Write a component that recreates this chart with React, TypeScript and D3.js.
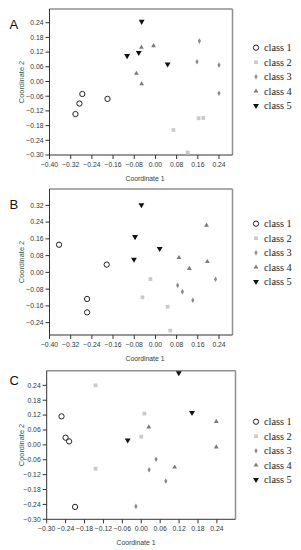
import React from "react";
import * as d3 from "d3";

// ---------- data ----------
const classNames = ["class 1", "class 2", "class 3", "class 4", "class 5"];

// Panel A
const aClass1: [number, number][] = [[-0.302, -0.133], [-0.287, -0.09], [-0.276, -0.051], [-0.181, -0.071]];
const aClass2: [number, number][] = [[0.068, -0.198], [0.122, -0.29], [0.163, -0.15], [0.181, -0.149]];
const aClass3: [number, number][] = [[0.166, 0.165], [0.157, 0.081], [0.24, 0.067], [0.24, -0.048]];
const aClass4: [number, number][] = [[-0.053, 0.139], [-0.007, 0.146], [-0.072, 0.033], [-0.052, -0.01]];
const aClass5: [number, number][] = [[-0.052, 0.245], [-0.107, 0.105], [-0.063, 0.118], [0.046, 0.071]];

// Panel B
const bClass1: [number, number][] = [[-0.364, 0.132], [-0.184, 0.037], [-0.258, -0.127], [-0.258, -0.191]];
const bClass2: [number, number][] = [[-0.019, -0.032], [-0.049, -0.119], [0.046, -0.164], [0.056, -0.278]];
const bClass3: [number, number][] = [[0.084, -0.062], [0.102, -0.092], [0.141, -0.133], [0.227, -0.033]];
const bClass4: [number, number][] = [[0.193, 0.225], [0.089, 0.07], [0.128, 0.018], [0.196, 0.051]];
const bClass5: [number, number][] = [[-0.053, 0.322], [-0.077, 0.17], [-0.081, 0.062], [0.016, 0.113]];

// Panel C
const cClass1: [number, number][] = [[-0.253, 0.115], [-0.24, 0.029], [-0.229, 0.014], [-0.21, -0.25]];
const cClass2: [number, number][] = [[-0.145, 0.24], [0.01, 0.126], [0.0, 0.033], [-0.145, -0.096]];
const cClass3: [number, number][] = [[0.047, -0.058], [0.025, -0.1], [0.078, -0.146], [-0.017, -0.248]];
const cClass4: [number, number][] = [[0.024, 0.072], [0.106, -0.09], [0.238, 0.094], [0.238, -0.009]];
const cClass5: [number, number][] = [[0.119, 0.29], [0.161, 0.13], [-0.043, 0.019]];

// tick values
const xTicksAB = [-0.4, -0.32, -0.24, -0.16, -0.08, 0.0, 0.08, 0.16, 0.24];
const yTicksA = [-0.3, -0.24, -0.18, -0.12, -0.06, 0.0, 0.06, 0.12, 0.18, 0.24];
const yTicksB = [-0.24, -0.16, -0.08, 0.0, 0.08, 0.16, 0.24, 0.32];
const xTicksC = [-0.3, -0.24, -0.18, -0.12, -0.06, 0.0, 0.06, 0.12, 0.18, 0.24];
const yTicksC = [-0.3, -0.24, -0.18, -0.12, -0.06, 0.0, 0.06, 0.12, 0.18, 0.24];

// ---------- styling ----------
const markerFill = ["none", "#c9c9c9", "#8a8a8a", "#7a7a7a", "#111"];
const tickColor = "#1f3a3a";
const titleColor = "#2d5a5a";

type Panel = {
  letter: string;
  box: { x0: number; x1: number; y0: number; y1: number };
  xDomain: [number, number];
  yDomain: [number, number];
  xTicks: number[];
  yTicks: number[];
  series: [number, number][][];
  letterY: number;
  legendY: number;
  xTitleX: number;
};

const panels: Panel[] = [
  {
    letter: "A",
    box: { x0: 49.5, x1: 232.5, y0: 9, y1: 155 },
    xDomain: [-0.4, 0.291],
    yDomain: [-0.3, 0.296],
    xTicks: xTicksAB,
    yTicks: yTicksA,
    series: [aClass1, aClass2, aClass3, aClass4, aClass5],
    letterY: 28.5,
    legendY: 47.7,
    xTitleX: 145,
  },
  {
    letter: "B",
    box: { x0: 49.5, x1: 232.5, y0: 189, y1: 335 },
    xDomain: [-0.4, 0.291],
    yDomain: [-0.299, 0.398],
    xTicks: xTicksAB,
    yTicks: yTicksB,
    series: [bClass1, bClass2, bClass3, bClass4, bClass5],
    letterY: 209.3,
    legendY: 223.7,
    xTitleX: 145,
  },
  {
    letter: "C",
    box: { x0: 46.7, x1: 235.5, y0: 370.7, y1: 519.3 },
    xDomain: [-0.3, 0.299],
    yDomain: [-0.3, 0.299],
    xTicks: xTicksC,
    yTicks: yTicksC,
    series: [cClass1, cClass2, cClass3, cClass4, cClass5],
    letterY: 385,
    legendY: 421.7,
    xTitleX: 136,
  },
];

const fmt = d3.format(".2f");

const symbolGens = [
  d3.symbol().type(d3.symbolCircle).size(22),
  d3.symbol().type(d3.symbolSquare).size(14),
  d3.symbol().type(d3.symbolDiamond).size(9),
  d3.symbol().type(d3.symbolTriangle).size(10),
  d3.symbol().type(d3.symbolTriangle).size(15),
];

function Marker({ i, x, y }: { i: number; x: number; y: number }) {
  const rot = i === 4 ? " rotate(180)" : "";
  return (
    <path
      d={symbolGens[i]() as string}
      transform={`translate(${x},${y})${rot}`}
      fill={markerFill[i]}
      stroke={i === 0 ? "#222" : "none"}
      strokeWidth={i === 0 ? 1 : 0}
    />
  );
}

function PanelView({ p }: { p: Panel }) {
  const { box } = p;
  const x = d3.scaleLinear().domain(p.xDomain).range([box.x0, box.x1]);
  const y = d3.scaleLinear().domain(p.yDomain).range([box.y1, box.y0]);
  const cy = (box.y0 + box.y1) / 2;
  return (
    <g>
      <text x={9.5} y={p.letterY} fontFamily="Liberation Sans, Arial, sans-serif" fontSize={13} fill="#111">
        {p.letter}
      </text>
      {/* frame */}
      <rect x={box.x0} y={box.y0} width={box.x1 - box.x0} height={box.y1 - box.y0} fill="#fff" stroke="none" />
      <line x1={box.x0} y1={box.y0} x2={box.x1} y2={box.y0} stroke="#8f8f8f" strokeWidth={1.5} />
      <line x1={box.x1} y1={box.y0} x2={box.x1} y2={box.y1} stroke="#8f8f8f" strokeWidth={1.5} />
      <line x1={box.x0} y1={box.y0} x2={box.x0} y2={box.y1} stroke="#333" strokeWidth={1} />
      <line x1={box.x0} y1={box.y1} x2={box.x1} y2={box.y1} stroke="#333" strokeWidth={1} />
      {/* y ticks */}
      {p.yTicks.map((t) => (
        <g key={"y" + t}>
          <line x1={box.x0 - 4} x2={box.x0} y1={y(t)} y2={y(t)} stroke="#333" strokeWidth={1} />
          <text
            x={box.x0 - 6}
            y={y(t)}
            dy="0.35em"
            textAnchor="end"
            fontFamily="Liberation Sans, Arial, sans-serif"
            fontSize={6.8}
            fill={tickColor}
          >
            {fmt(t)}
          </text>
        </g>
      ))}
      {/* x ticks */}
      {p.xTicks.map((t) => (
        <g key={"x" + t}>
          <line x1={x(t)} x2={x(t)} y1={box.y1} y2={box.y1 + 4} stroke="#333" strokeWidth={1} />
          <text
            x={x(t)}
            y={box.y1 + 11.5}
            textAnchor="middle"
            fontFamily="Liberation Sans, Arial, sans-serif"
            fontSize={6.8}
            fill={tickColor}
          >
            {fmt(t)}
          </text>
        </g>
      ))}
      {/* titles */}
      <text
        x={p.xTitleX}
        y={box.y1 + 25.5}
        textAnchor="middle"
        fontFamily="Liberation Sans, Arial, sans-serif"
        fontSize={6.8}
        fill="#2a4444"
      >
        Coordinate 1
      </text>
      <text
        transform={`translate(${23.5},${cy}) rotate(-90)`}
        textAnchor="middle"
        fontFamily="Liberation Sans, Arial, sans-serif"
        fontSize={7.4}
        fill={titleColor}
      >
        Coordinate 2
      </text>
      {/* points */}
      {p.series.map((s, i) =>
        s.map((d, j) => <Marker key={i + "-" + j} i={i} x={x(d[0])} y={y(d[1])} />)
      )}
      {/* legend */}
      {classNames.map((name, i) => (
        <g key={name}>
          <Marker i={i} x={256} y={p.legendY + i * 14.5} />
          <text
            x={264}
            y={p.legendY + i * 14.5}
            dy="0.33em"
            fontFamily="Liberation Serif, Times New Roman, serif"
            fontSize={10.3}
            fill="#222"
          >
            {name}
          </text>
        </g>
      ))}
    </g>
  );
}

export default function App() {
  return (
    <div style={{ position: "fixed", left: 0, top: 0 }}>
      <svg width={301} height={550} style={{ display: "block", background: "#fff" }}>
        <rect x={0} y={0} width={301} height={550} fill="#fff" />
        {panels.map((p) => (
          <PanelView key={p.letter} p={p} />
        ))}
      </svg>
    </div>
  );
}
